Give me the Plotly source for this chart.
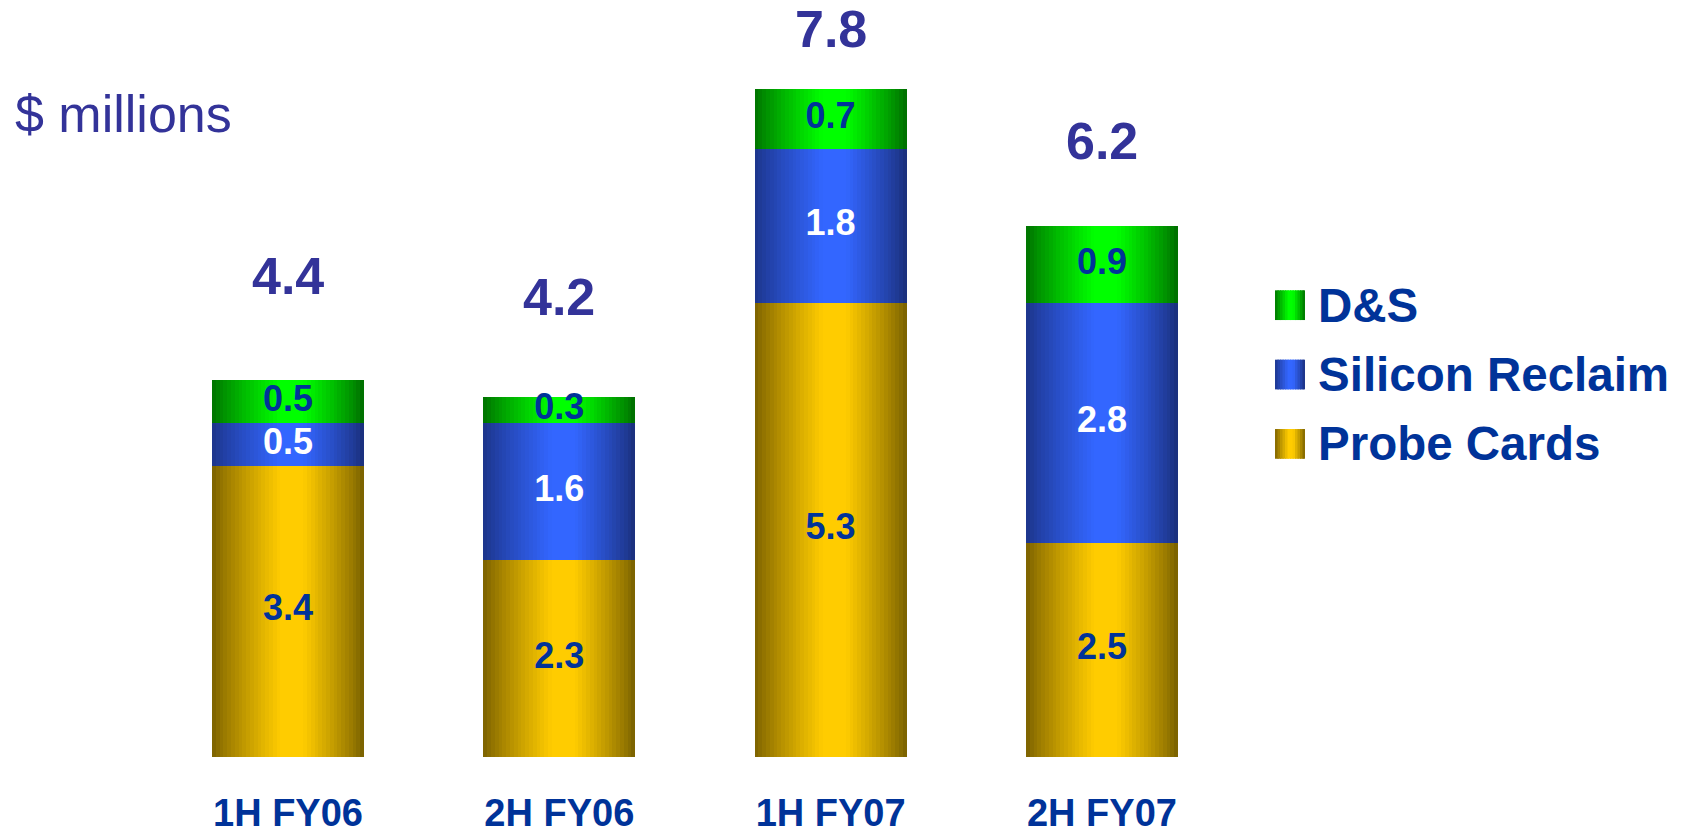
import numpy as np
import plotly.graph_objects as go

# ---------------- data ----------------
CATEGORIES = ["1H FY06", "2H FY06", "1H FY07", "2H FY07"]
PROBE_CARDS = [3.4, 2.3, 5.3, 2.5]
SILICON_RECLAIM = [0.5, 1.6, 1.8, 2.8]
DS = [0.5, 0.3, 0.7, 0.9]
TOTALS = [4.4, 4.2, 7.8, 6.2]
SERIES_NAMES = ["D&S", "Silicon Reclaim", "Probe Cards"]
UNIT_LABEL = "$ millions"

# ---------------- style / layout ----------------
W, H = 1685, 834
FONT = "Liberation Sans, Arial, sans-serif"
MARGIN_B = 70
PX_PER_UNIT = 86.4
Y_TOP = (H - MARGIN_B) / PX_PER_UNIT
X_RANGE = [-1.0615, 5.149]
BAR_W = 0.56
N_STRIPS = 40
TOTAL_SHIFT_PX = [104, 100, 60, 85]

GOLD = ((0x7a, 0x60, 0x00), (0xff, 0xcc, 0x00), (0x76, 0x5e, 0x00))
BLUE = ((0x1c, 0x34, 0x88), (0x33, 0x66, 0xff), (0x1a, 0x2e, 0x78))
GREEN = ((0x00, 0x70, 0x00), (0x00, 0xff, 0x00), (0x00, 0x6a, 0x00))

TITLE_COLOR = "#333399"
LABEL_BLUE = "#003399"


def shade(t, pal):
    left, bright, right = pal
    if t < 0.45:
        f = t / 0.45
        dark = left
    elif t < 0.6:
        f = 1.0
        dark = left
    else:
        f = (1 - t) / 0.4
        dark = right
    f = f ** 0.85
    c = [int(round(d + (b - d) * f)) for d, b in zip(dark, bright)]
    return "rgb({},{},{})".format(*c)


probe = np.array(PROBE_CARDS)
sil = np.array(SILICON_RECLAIM)
ds = np.array(DS)

segments = [
    (probe, np.zeros(len(probe)), GOLD),
    (sil, probe, BLUE),
    (ds, probe + sil, GREEN),
]

fig = go.Figure()

step = BAR_W / N_STRIPS
for heights, bases, pal in segments:
    for i in range(N_STRIPS):
        off = -BAR_W / 2 + i * step
        wid = min(step * 1.6, BAR_W / 2 - off)
        fig.add_trace(go.Bar(
            x=CATEGORIES, y=heights, base=bases,
            offset=off, width=wid,
            marker=dict(color=shade((i + 0.5) / N_STRIPS, pal), line=dict(width=0)),
            showlegend=False, hoverinfo="skip",
        ))

# segment value labels
label_specs = [
    (probe / 2, PROBE_CARDS, LABEL_BLUE),
    (probe + sil / 2, SILICON_RECLAIM, "white"),
    (probe + sil + ds / 2, DS, LABEL_BLUE),
]
for ys, vals, col in label_specs:
    fig.add_trace(go.Scatter(
        x=CATEGORIES, y=ys, mode="text",
        text=[f"<b>{v:.1f}</b>" for v in vals],
        textposition="middle center",
        textfont=dict(family=FONT, size=36, color=col),
        showlegend=False, hoverinfo="skip", cliponaxis=False,
    ))

# totals
tops = probe + sil + ds
annotations = []
for cat, top, tot, sh in zip(CATEGORIES, tops, TOTALS, TOTAL_SHIFT_PX):
    annotations.append(dict(
        x=cat, y=top, xref="x", yref="y", yshift=sh,
        text=f"<b>{tot:.1f}</b>", showarrow=False,
        xanchor="center", yanchor="middle",
        font=dict(family=FONT, size=52, color=TITLE_COLOR),
    ))

plot_h = H - MARGIN_B


def py(px):
    return (plot_h - px) / plot_h


annotations.append(dict(
    x=13 / W, y=py(115), xref="paper", yref="paper",
    text=UNIT_LABEL, showarrow=False, xanchor="left", yanchor="middle",
    font=dict(family=FONT, size=52, color=TITLE_COLOR),
))

# legend
shapes = []
legend_pals = [GREEN, BLUE, GOLD]
legend_y = [308, 378, 448]
sq_x0, sq_size = 1275, 30
n_leg = 12
for name, pal, ly in zip(SERIES_NAMES, legend_pals, legend_y):
    for i in range(n_leg):
        x0 = sq_x0 + i * sq_size / n_leg
        x1 = min(x0 + sq_size / n_leg * 1.5, sq_x0 + sq_size)
        shapes.append(dict(
            type="rect", xref="paper", yref="paper",
            x0=x0 / W, x1=x1 / W, y0=py(ly + sq_size / 2), y1=py(ly - sq_size / 2),
            fillcolor=shade((i + 0.5) / n_leg, pal), line=dict(width=0), layer="above",
        ))
    annotations.append(dict(
        x=1316 / W, y=py(ly), xref="paper", yref="paper",
        text=f"<b>{name}</b>", showarrow=False, xanchor="left", yanchor="middle",
        font=dict(family=FONT, size=47.5, color=LABEL_BLUE),
    ))

fig.update_layout(
    width=W, height=H,
    margin=dict(l=0, r=0, t=0, b=MARGIN_B, pad=0),
    paper_bgcolor="white", plot_bgcolor="white",
    barmode="overlay", bargap=0,
    showlegend=False,
    annotations=annotations, shapes=shapes,
    xaxis=dict(type="category", range=X_RANGE, showgrid=False, zeroline=False,
               showline=False, ticks="", tickfont=dict(family=FONT, size=38, color=LABEL_BLUE),
               tickprefix="<b>", ticksuffix="</b>", ticklabelstandoff=30, fixedrange=True),
    yaxis=dict(range=[0, Y_TOP], showgrid=False, zeroline=False, showline=False,
               showticklabels=False, ticks="", fixedrange=True),
)

fig.write_html(
    "out.html",
    config={"displayModeBar": False},
    post_script="document.body.style.margin='0';document.body.style.overflow='hidden';",
)
